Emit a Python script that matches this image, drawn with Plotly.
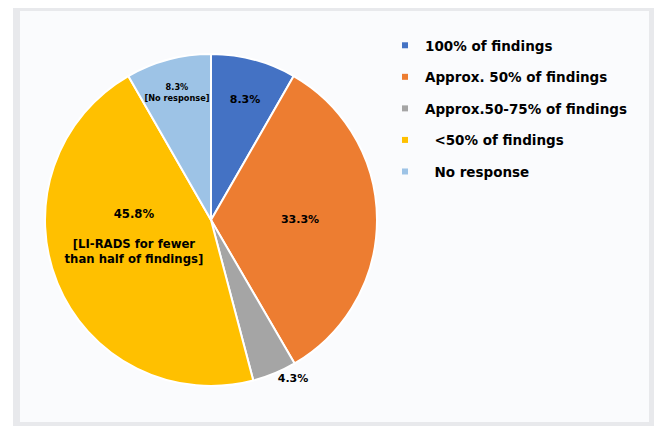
"""Pie chart: share of LI-RADS use among responders."""

import plotly.graph_objects as go

# the page adds an 8 px body margin, so the figure is drawn 8 px in
OFF = 8
W, H = 662 - OFF, 426 - OFF

categories = [
    "100% of findings",
    "Approx. 50% of findings",
    "Approx.50-75% of findings",
    "\u00a0\u00a0&lt;50% of findings",
    "\u00a0\u00a0No response",
]
shares = [8.3, 33.3, 4.3, 45.8, 8.3]
slice_labels = [
    "\u00a0<br>8.3%",
    "33.3%",
    "4.3%",
    "45.8%<br>\u00a0<br>[LI-RADS for fewer<br>than half of findings]<br>\u00a0<br>\u00a0",
    "8.3%<br>[No response]",
]
label_positions = ["inside", "inside", "outside", "inside", "inside"]
label_sizes = [11, 11, 11, 12.5, 10]
colors = ["#4472C4", "#ED7D31", "#A5A5A5", "#FFC000", "#9DC3E6"]

FONT = "DejaVu Sans"


def px(x):
    return (x - OFF) / W


def py(y):
    return 1 - (y - OFF) / H


fig = go.Figure()
fig.add_trace(
    go.Pie(
        labels=categories,
        values=shares,
        text=slice_labels,
        textinfo="text",
        textposition=label_positions,
        insidetextorientation="horizontal",
        sort=False,
        direction="clockwise",
        marker=dict(colors=colors, line=dict(color="white", width=2)),
        textfont=dict(family=FONT, size=label_sizes, color="black", weight="bold"),
        showlegend=False,
        domain=dict(x=[px(45), px(377)], y=[py(386), py(54)]),
    )
)

# legend entries drawn as empty marker traces so the spacing can be opened up
for i, (cat, col) in enumerate(zip(categories, colors)):
    fig.add_trace(
        go.Scatter(
            x=[None],
            y=[None],
            mode="markers",
            name=cat,
            legendgroup=str(i),
            marker=dict(symbol="square", size=6, color=col),
        )
    )

fig.update_layout(
    width=W,
    height=H,
    margin=dict(l=0, r=0, t=0, b=0),
    paper_bgcolor="white",
    plot_bgcolor="rgba(0,0,0,0)",
    xaxis=dict(visible=False),
    yaxis=dict(visible=False),
    legend=dict(
        x=px(385),
        y=py(30),
        xanchor="left",
        yanchor="top",
        tracegroupgap=11,
        itemwidth=30,
        bgcolor="rgba(0,0,0,0)",
        font=dict(family=FONT, size=13.5, color="black", weight="bold"),
    ),
    shapes=[
        dict(type="rect", xref="paper", yref="paper", x0=px(13), x1=1, y0=0, y1=py(4),
             fillcolor="#e8e9ec", line_width=0, layer="below"),
        dict(type="rect", xref="paper", yref="paper", x0=px(20), x1=px(649), y0=py(422), y1=py(11),
             fillcolor="#fafbfd", line_width=0, layer="below"),
    ],
)

fig.write_html("out.html")
